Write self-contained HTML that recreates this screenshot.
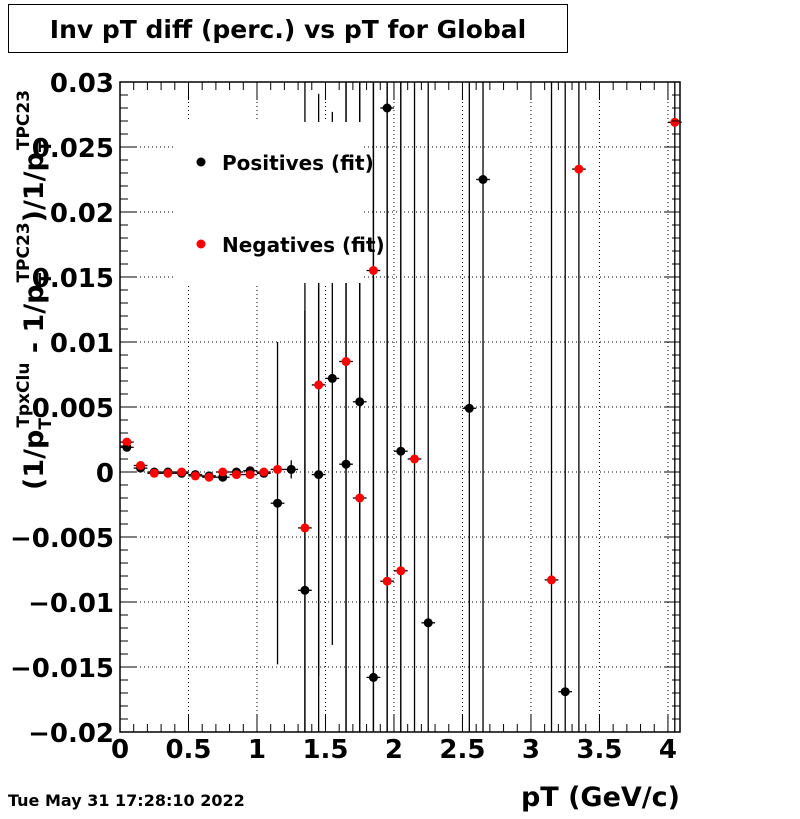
<!DOCTYPE html>
<html><head><meta charset="utf-8"><style>
body{margin:0;background:#fff;width:800px;height:814px;overflow:hidden}
svg text{font-family:"DejaVu Sans","Liberation Sans",sans-serif;font-weight:bold}
</style></head><body>
<svg id="chart" width="800" height="814" xmlns="http://www.w3.org/2000/svg">
<rect x="0" y="0" width="800" height="814" fill="#fff"/>
<g id="grid"></g>
<g id="bars"></g>
<rect x="176" y="122" width="186" height="161" fill="#fff"/>
<g id="marks"></g>
<g id="axes"></g>
<rect x="120" y="82" width="560" height="650" fill="none" stroke="#000" stroke-width="1.5"/>
<g>
<circle cx="201" cy="162" r="4.5" fill="#000"/>
<text x="222" y="170" font-size="20">Positives (fit)</text>
<circle cx="201" cy="244" r="4.5" fill="#f00"/>
<text x="222" y="252" font-size="20">Negatives (fit)</text>
</g>
<rect x="8.5" y="4.5" width="559" height="48" fill="#fff" stroke="#000"/>
<text x="288" y="38" font-size="25" text-anchor="middle">Inv pT diff (perc.) vs pT for Global</text>
<text x="680" y="806" font-size="27" text-anchor="end">pT (GeV/c)</text>
<text x="8" y="806" font-size="16">Tue May 31 17:28:10 2022</text>
<text transform="translate(43,490) rotate(-90)" font-size="27">(1/p<tspan font-size="17" dy="8">T</tspan><tspan font-size="17" dy="-22" dx="-10">TpxClu</tspan><tspan dy="14"> - 1/p</tspan><tspan font-size="17" dy="8">T</tspan><tspan font-size="17" dy="-22" dx="-10">TPC23</tspan><tspan dy="14">)/1/p</tspan><tspan font-size="17" dy="8">T</tspan><tspan font-size="17" dy="-22" dx="-10">TPC23</tspan></text>
</svg>
<script>
const posX=[0.05,0.15,0.25,0.35,0.45,0.55,0.65,0.75,0.85,0.95,1.05,1.15,1.25,1.35,1.45,1.55,1.65,1.75,1.85,1.95,2.05,2.25,2.55,2.65,3.25];
const posY=[0.0019,0.0003,0,0,-0.0001,-0.0002,-0.0003,-0.0004,0,0.0001,-0.0001,-0.0024,0.0002,-0.0091,-0.0002,0.0072,0.0006,0.0054,-0.0158,0.028,0.0016,-0.0116,0.0049,0.0225,-0.0169];
const posErr=[0.0002,0.0002,0.0001,0.0001,0.0001,0.0001,0.0001,0.0001,0.0001,0.0002,0.0003,0.0124,0.0007,0.0215,0.02,0.0205,0.05,0.05,0.05,0.05,0.05,0.05,0.05,0.05,0.05];
const negX=[0.05,0.15,0.25,0.35,0.45,0.55,0.65,0.75,0.85,0.95,1.05,1.15,1.35,1.45,1.65,1.75,1.85,1.95,2.05,2.15,3.15,3.35,4.05];
const negY=[0.0023,0.0005,-0.0001,-0.0001,0,-0.0003,-0.0004,0,-0.0002,-0.0002,0,0.0002,-0.0043,0.0067,0.0085,-0.002,0.0155,-0.0084,-0.0076,0.001,-0.0083,0.0233,0.0269];
const negErr=[0.0002,0.0002,0.0001,0.0001,0.0001,0.0001,0.0001,0.0001,0.0001,0.0002,0.0002,0.0003,0.05,0.0224,0.05,0.05,0.05,0.05,0.05,0.05,0.05,0.05,0.05];
const xTicks=[0,0.5,1,1.5,2,2.5,3,3.5,4];
const yTicks=[-0.02,-0.015,-0.01,-0.005,0,0.005,0.01,0.015,0.02,0.025,0.03];
const yLabels=["\u22120.02","\u22120.015","\u22120.01","\u22120.005","0","0.005","0.01","0.015","0.02","0.025","0.03"];
const X0=120,X1=680,XMAX=4.088,Y0=732,Y1=82,YMIN=-0.02,YMAX=0.03;
const sx=v=>X0+(v/XMAX)*(X1-X0);
const sy=v=>Y0-(v-YMIN)/(YMAX-YMIN)*(Y0-Y1);
const clampY=y=>Math.max(Y1,Math.min(Y0,y));
const NS="http://www.w3.org/2000/svg";
function mk(tag,attrs,parent){const e=document.createElementNS(NS,tag);for(const k in attrs)e.setAttribute(k,attrs[k]);parent.appendChild(e);return e;}
const grid=document.getElementById('grid'),axes=document.getElementById('axes'),bars=document.getElementById('bars'),marks=document.getElementById('marks');
xTicks.forEach((t,i)=>{const x=sx(t);
 if(i>0){const g=mk('line',{x1:x,x2:x,y1:Y1,y2:Y0,stroke:'#000','stroke-dasharray':'1,3','stroke-width':1},grid);
 
 }
 const lb=mk('text',{x:x,y:758,'font-size':26,'text-anchor':'middle'},axes);lb.textContent=String(t);
 
 
});
for(let k=0;k<=40;k++){const v=k*0.1;const x=sx(v);const L=(k%5===0)?18:8;
 mk('line',{x1:x,x2:x,y1:Y0,y2:Y0-L,stroke:'#000'},axes);
 mk('line',{x1:x,x2:x,y1:Y1,y2:Y1+L,stroke:'#000'},axes);}
yTicks.forEach((t,i)=>{const y=sy(t);
 if(i>0&&i<yTicks.length-1){const g=mk('line',{x1:X0,x2:X1,y1:y,y2:y,stroke:'#000','stroke-dasharray':'1,3','stroke-width':1},grid);
 
 }
 const lb=mk('text',{x:114,y:y+10,'font-size':26,'text-anchor':'end'},axes);lb.textContent=yLabels[i];
 
 
});
for(let k=0;k<=50;k++){const v=-0.02+k*0.001;const y=sy(v);const L=(k%5===0)?16:8;
 mk('line',{x1:X0,x2:X0+L,y1:y,y2:y,stroke:'#000'},axes);
 mk('line',{x1:X1,x2:X1-L,y1:y,y2:y,stroke:'#000'},axes);}
function series(xs,ys,es,color,name){
 xs.forEach((xv,i)=>{const x=sx(xv),y=sy(ys[i]);
  const eb=mk('line',{x1:x,x2:x,y1:clampY(sy(ys[i]+es[i])),y2:clampY(sy(ys[i]-es[i])),stroke:'#000','stroke-width':1.3},bars);
  
  
  mk('line',{x1:sx(xv-0.05),x2:sx(xv+0.05),y1:y,y2:y,stroke:'#000','stroke-width':1.3},marks);
  const c=mk('circle',{cx:x,cy:y,r:4.5,fill:color},marks);
  
  
 });}
series(posX,posY,posErr,'#000','positives');
series(negX,negY,negErr,'#f00','negatives');
</script>
</body></html>
